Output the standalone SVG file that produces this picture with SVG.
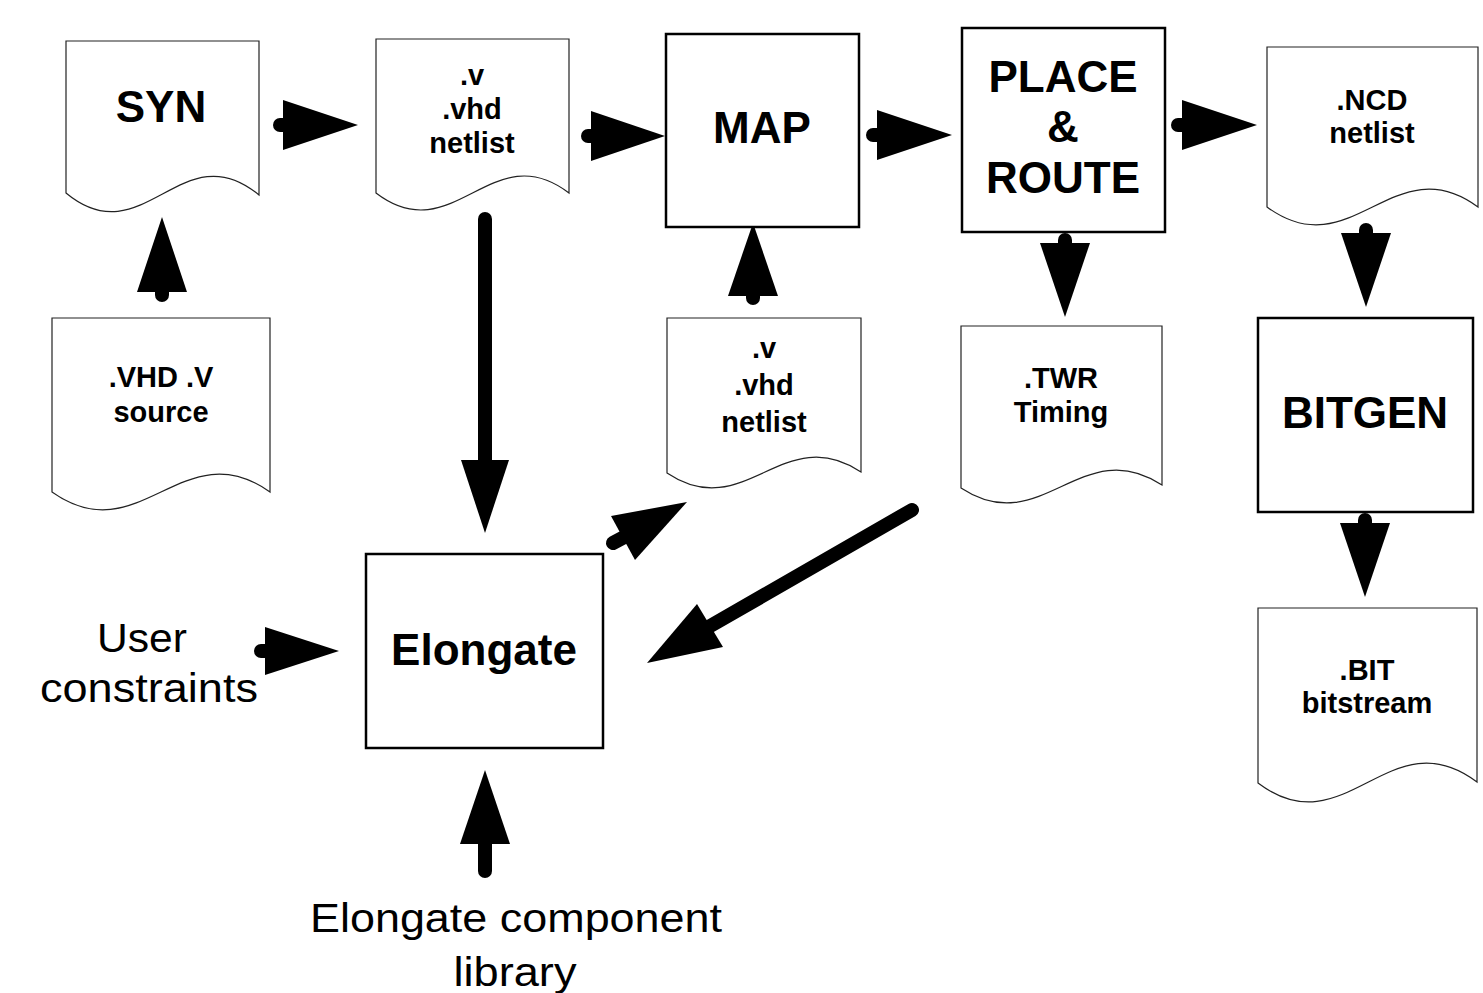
<svg xmlns="http://www.w3.org/2000/svg" width="1483" height="993" viewBox="0 0 1483 993">
<style>
.doc{fill:#fff;stroke:#222;stroke-width:1.2}
.box{fill:#fff;stroke:#000;stroke-width:2.5}
.t{font-family:"Liberation Sans",Arial,sans-serif;font-weight:bold;fill:#000;text-anchor:middle}
.big{font-size:44px}
.sm{font-size:29px}
.reg{font-family:"Liberation Sans",Arial,sans-serif;font-size:40px;fill:#000;text-anchor:middle}
.ln{stroke:#000;stroke-width:14;stroke-linecap:round;fill:none}
.hd{fill:#000;stroke:none}
</style>
<rect width="1483" height="993" fill="#fff"/>
<g id="connectors">
  <g id="a1"><line class="ln" x1="280" y1="125" x2="290" y2="125"/><polygon class="hd" points="283,100 358,125 283,150"/></g>
  <g id="a2"><line class="ln" x1="588" y1="136" x2="598" y2="136"/><polygon class="hd" points="591,111 665,136 591,161"/></g>
  <g id="a3"><line class="ln" x1="873" y1="135" x2="883" y2="135"/><polygon class="hd" points="877,110 952,135 877,160"/></g>
  <g id="a4"><line class="ln" x1="1178" y1="125" x2="1188" y2="125"/><polygon class="hd" points="1182,100 1257,125 1182,150"/></g>
  <g id="a5"><line class="ln" x1="1366" y1="230" x2="1366" y2="240"/><polygon class="hd" points="1341,233 1366,307 1391,233"/></g>
  <g id="a6"><line class="ln" x1="1365" y1="520" x2="1365" y2="530"/><polygon class="hd" points="1340,523 1365,597 1390,523"/></g>
  <g id="a7"><line class="ln" x1="1065" y1="240" x2="1065" y2="250"/><polygon class="hd" points="1040,243 1065,317 1090,243"/></g>
  <g id="a8"><line class="ln" x1="162" y1="295" x2="162" y2="285"/><polygon class="hd" points="137,292 162,217 187,292"/></g>
  <g id="a9"><line class="ln" x1="485" y1="219" x2="485" y2="465"/><polygon class="hd" points="461,460 485,533 509,460"/></g>
  <g id="a10"><line class="ln" x1="753" y1="298" x2="753" y2="288"/><polygon class="hd" points="728,296 753,223 778,296"/></g>
  <g id="a11"><line class="ln" x1="613" y1="543" x2="628" y2="535"/><polygon class="hd" points="611,516 687,502 635,560"/></g>
  <g id="a12"><line class="ln" x1="912" y1="510" x2="705" y2="629"/><polygon class="hd" points="723,647 647,663 697,604"/></g>
  <g id="a13"><line class="ln" x1="261" y1="651" x2="271" y2="651"/><polygon class="hd" points="265,627 339,651 265,675"/></g>
  <g id="a14"><line class="ln" x1="485" y1="871" x2="485" y2="838"/><polygon class="hd" points="460,844 485,770 510,844"/></g>
</g>
<g id="syn">
  <path class="doc" d="M66,41 H259 V195 C181.8,131 143.2,257 66,193 Z"/>
  <text class="t big" x="161" y="122">SYN</text>
</g>
<g id="netlist1">
  <path class="doc" d="M376,39 H569 V193 C491.8,134 453.2,252 376,193 Z"/>
  <text class="t sm" x="472" y="85">.v</text>
  <text class="t sm" x="472" y="119">.vhd</text>
  <text class="t sm" x="472" y="153">netlist</text>
</g>
<g id="map">
  <rect class="box" x="666" y="34" width="193" height="193"/>
  <text class="t big" x="762" y="143">MAP</text>
</g>
<g id="placeroute">
  <rect class="box" x="962" y="28" width="203" height="204"/>
  <text class="t big" x="1063" y="92">PLACE</text>
  <text class="t big" x="1063" y="142">&amp;</text>
  <text class="t big" x="1063" y="193">ROUTE</text>
</g>
<g id="ncd">
  <path class="doc" d="M1267,47 H1478 V207 C1393.6,145 1351.4,269 1267,207 Z"/>
  <text class="t sm" x="1372" y="110">.NCD</text>
  <text class="t sm" x="1372" y="143">netlist</text>
</g>
<g id="source">
  <path class="doc" d="M52,318 H270 V492 C182.8,430 139.2,554 52,492 Z"/>
  <text class="t sm" x="161" y="387">.VHD .V</text>
  <text class="t sm" x="161" y="422">source</text>
</g>
<g id="netlist2">
  <path class="doc" d="M667,318 H861 V472 C783.4,420 744.6,525 667,473 Z"/>
  <text class="t sm" x="764" y="358">.v</text>
  <text class="t sm" x="764" y="395">.vhd</text>
  <text class="t sm" x="764" y="432">netlist</text>
</g>
<g id="twr">
  <path class="doc" d="M961,326 H1162 V485 C1081.6,432 1041.4,541 961,488 Z"/>
  <text class="t sm" x="1061" y="388">.TWR</text>
  <text class="t sm" x="1061" y="422">Timing</text>
</g>
<g id="bitgen">
  <rect class="box" x="1258" y="318" width="215" height="194"/>
  <text class="t big" x="1365" y="428">BITGEN</text>
</g>
<g id="bit">
  <path class="doc" d="M1258,608 H1477 V782 C1389.4,716 1345.6,849 1258,783 Z"/>
  <text class="t sm" x="1367" y="680">.BIT</text>
  <text class="t sm" x="1367" y="713">bitstream</text>
</g>
<g id="elongate">
  <rect class="box" x="366" y="554" width="237" height="194"/>
  <text class="t big" x="484" y="665">Elongate</text>
</g>
<g id="userconstraints">
  <text class="reg" x="142" y="652" textLength="90" lengthAdjust="spacingAndGlyphs">User</text>
  <text class="reg" x="149" y="702" textLength="218" lengthAdjust="spacingAndGlyphs">constraints</text>
</g>
<g id="library">
  <text class="reg" x="516" y="932" textLength="412" lengthAdjust="spacingAndGlyphs">Elongate component</text>
  <text class="reg" x="515" y="986" textLength="123" lengthAdjust="spacingAndGlyphs">library</text>
</g>
</svg>
